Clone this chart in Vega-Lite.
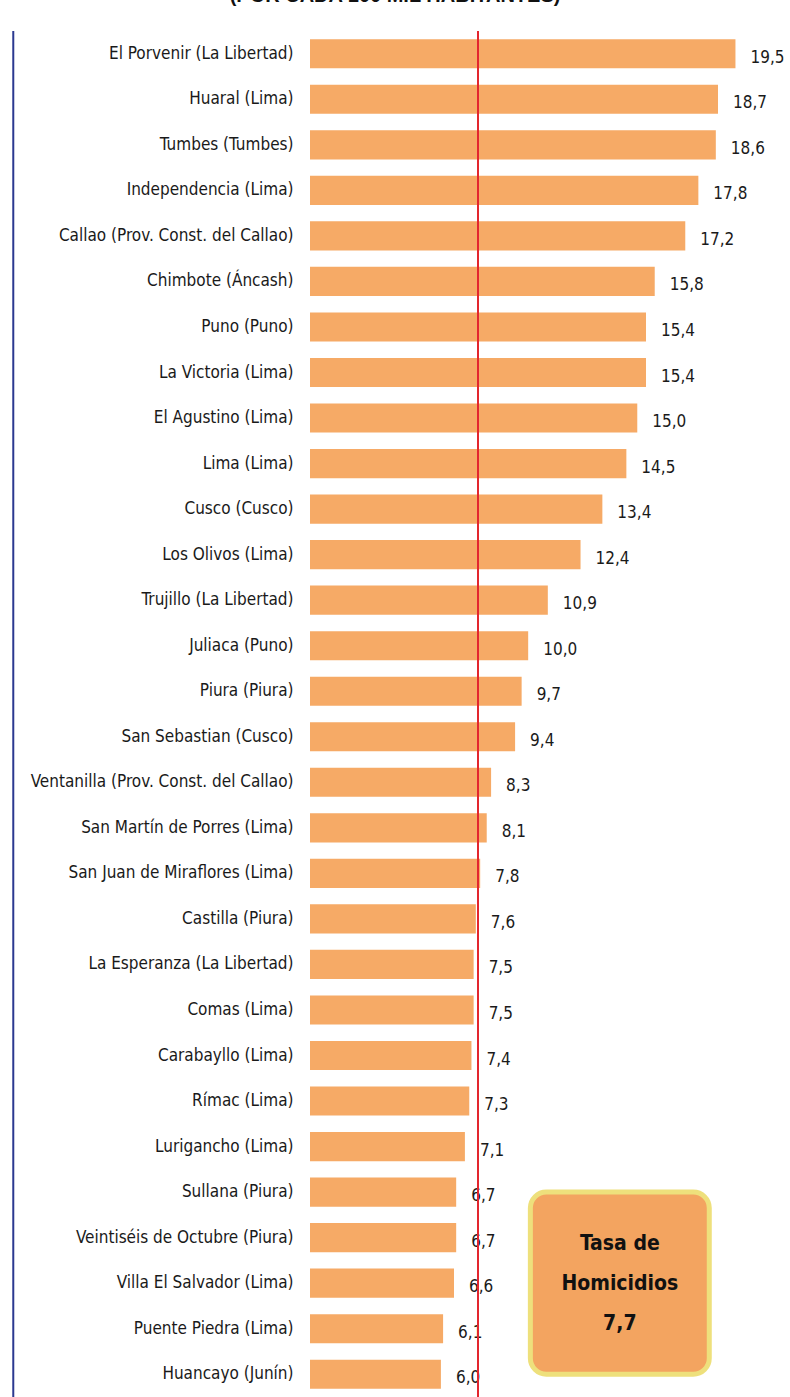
{
  "$schema": "https://vega.github.io/schema/vega-lite/v6.json",
  "autosize": "none",
  "padding": {"left": 310, "top": 31, "right": 0, "bottom": 0},
  "width": 480,
  "height": 1366,
  "background": "white",
  "title": {
    "text": "(POR CADA 100 MIL HABITANTES)",
    "font": "Liberation Sans",
    "fontSize": 20,
    "fontWeight": "bold",
    "color": "#111111",
    "anchor": "middle",
    "frame": "group",
    "dx": -155,
    "offset": 4,
    "baseline": "bottom"
  },
  "config": {
    "view": {"stroke": null},
    "locale": {"number": {"decimal": ",", "thousands": ".", "grouping": [3], "currency": ["", ""]}}
  },
  "data": {
    "values": [
      {"name": "El Porvenir (La Libertad)", "tasa": 19.5},
      {"name": "Huaral (Lima)", "tasa": 18.7},
      {"name": "Tumbes (Tumbes)", "tasa": 18.6},
      {"name": "Independencia (Lima)", "tasa": 17.8},
      {"name": "Callao (Prov. Const. del Callao)", "tasa": 17.2},
      {"name": "Chimbote (Áncash)", "tasa": 15.8},
      {"name": "Puno (Puno)", "tasa": 15.4},
      {"name": "La Victoria (Lima)", "tasa": 15.4},
      {"name": "El Agustino (Lima)", "tasa": 15.0},
      {"name": "Lima (Lima)", "tasa": 14.5},
      {"name": "Cusco (Cusco)", "tasa": 13.4},
      {"name": "Los Olivos (Lima)", "tasa": 12.4},
      {"name": "Trujillo (La Libertad)", "tasa": 10.9},
      {"name": "Juliaca (Puno)", "tasa": 10.0},
      {"name": "Piura (Piura)", "tasa": 9.7},
      {"name": "San Sebastian (Cusco)", "tasa": 9.4},
      {"name": "Ventanilla (Prov. Const. del Callao)", "tasa": 8.3},
      {"name": "San Martín de Porres (Lima)", "tasa": 8.1},
      {"name": "San Juan de Miraflores (Lima)", "tasa": 7.8},
      {"name": "Castilla (Piura)", "tasa": 7.6},
      {"name": "La Esperanza (La Libertad)", "tasa": 7.5},
      {"name": "Comas (Lima)", "tasa": 7.5},
      {"name": "Carabayllo (Lima)", "tasa": 7.4},
      {"name": "Rímac (Lima)", "tasa": 7.3},
      {"name": "Lurigancho (Lima)", "tasa": 7.1},
      {"name": "Sullana (Piura)", "tasa": 6.7},
      {"name": "Veintiséis de Octubre (Piura)", "tasa": 6.7},
      {"name": "Villa El Salvador (Lima)", "tasa": 6.6},
      {"name": "Puente Piedra (Lima)", "tasa": 6.1},
      {"name": "Huancayo (Junín)", "tasa": 6.0}
    ]
  },
  "layer": [
    {
      "mark": {"type": "bar", "color": "#F6AA66"},
      "encoding": {
        "y": {
          "field": "name",
          "type": "nominal",
          "sort": null,
          "scale": {"paddingInner": 0.36, "paddingOuter": 0.18},
          "axis": {
            "title": null,
            "ticks": false,
            "domain": false,
            "labelPadding": 17,
            "labelFont": "DejaVu Sans Condensed, Liberation Sans, sans-serif",
            "labelFontSize": 17,
            "labelColor": "#1a1a1a",
            "labelLimit": 320
          }
        },
        "x": {"field": "tasa", "type": "quantitative", "scale": {"domain": [0, 22], "nice": false}, "axis": null}
      }
    },
    {
      "mark": {"type": "text", "align": "left", "baseline": "middle", "dx": 15, "dy": 4, "font": "DejaVu Sans Condensed, Liberation Sans, sans-serif", "fontSize": 17, "color": "#1a1a1a"},
      "encoding": {
        "y": {"field": "name", "type": "nominal", "sort": null},
        "x": {"field": "tasa", "type": "quantitative"},
        "text": {"field": "tasa", "type": "quantitative", "format": ".1f"}
      }
    },
    {
      "data": {"values": [{}]},
      "mark": {"type": "rule", "color": "#E3262E", "strokeWidth": 2},
      "encoding": {"x": {"datum": 7.7, "type": "quantitative"}}
    },
    {
      "data": {"values": [{}]},
      "mark": {"type": "rule", "color": "#2B3990", "strokeWidth": 2},
      "encoding": {"x": {"datum": -13.6, "type": "quantitative"}}
    },
    {
      "data": {"values": [{}]},
      "mark": {"type": "rect", "fill": "#F3A460", "stroke": "#EEE07C", "strokeWidth": 5, "cornerRadius": 16},
      "encoding": {
        "x": {"datum": 10.1, "type": "quantitative"},
        "x2": {"datum": 18.3},
        "y": {"datum": "Sullana (Piura)", "type": "nominal", "bandPosition": 0.5},
        "y2": {"datum": "Huancayo (Junín)", "bandPosition": 0.5}
      }
    },
    {
      "data": {"values": [{}]},
      "mark": {"type": "text", "align": "center", "baseline": "middle", "dy": 6, "font": "DejaVu Sans Condensed, Liberation Sans, sans-serif", "fontSize": 21, "fontWeight": "bold", "color": "#111111", "lineHeight": 40, "text": ["Tasa de", "Homicidios", "7,7"]},
      "encoding": {
        "x": {"datum": 14.2, "type": "quantitative"},
        "y": {"datum": "Veintiséis de Octubre (Piura)", "type": "nominal", "bandPosition": 0.5}
      }
    }
  ]
}
